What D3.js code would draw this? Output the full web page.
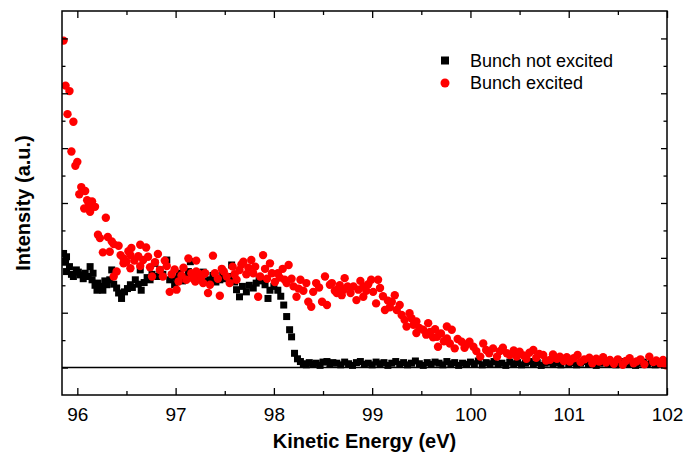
<html>
<head>
<script src="https://d3js.org/d3.v7.min.js"></script>
</head>
<style>
body { margin:0; background:#fff; }
text { font-family: Arial, "Liberation Sans", sans-serif; }
</style>
<body>
<script>

// Bunch excited (red circles)
var redE = [95.86,95.88,95.90,95.92,95.94,95.96,95.98,96.00,96.02,96.04,96.07,96.08,96.10,96.12,96.13,96.15,96.18,96.21,96.23,96.26,
  96.29,96.31,96.33,96.35,96.37,96.37,96.40,96.42,96.44,96.47,96.47,96.50,96.52,96.54,96.54,96.55,96.58,96.62,96.64,96.64,
  96.67,96.70,96.72,96.74,96.76,96.79,96.82,96.84,96.87,96.89,96.91,96.94,96.96,96.99,97.01,97.03,97.06,97.08,97.11,97.13,
  97.16,97.18,97.20,97.21,97.21,97.23,97.26,97.28,97.30,97.33,97.35,97.38,97.40,97.43,97.45,97.47,97.49,97.52,97.55,97.58,
  97.60,97.62,97.65,97.67,97.69,97.72,97.74,97.77,97.79,97.81,97.84,97.86,97.89,97.91,97.93,97.96,97.98,98.01,98.04,98.06,
  98.09,98.11,98.13,98.15,98.18,98.20,98.23,98.25,98.27,98.30,98.33,98.35,98.38,98.40,98.43,98.46,98.49,98.52,98.54,98.57,
  98.59,98.62,98.64,98.64,98.67,98.69,98.71,98.72,98.75,98.78,98.81,98.84,98.86,98.88,98.91,98.91,98.94,98.96,98.99,99.01,
  99.04,99.06,99.08,99.11,99.13,99.16,99.18,99.20,99.23,99.25,99.28,99.30,99.33,99.35,99.38,99.40,99.42,99.45,99.45,99.48,
  99.52,99.55,99.57,99.59,99.62,99.64,99.66,99.67,99.70,99.73,99.76,99.76,99.79,99.81,99.84,99.87,99.91,99.94,99.96,99.99,
  100.03,100.06,100.10,100.13,100.16,100.19,100.23,100.27,100.30,100.33,100.37,100.40,100.44,100.47,100.50,100.54,100.57,100.60,100.64,100.67,
  100.70,100.74,100.77,100.81,100.84,100.88,100.91,100.95,100.98,101.01,101.05,101.09,101.12,101.16,101.21,101.24,101.28,101.31,101.35,101.38,
  101.42,101.46,101.50,101.55,101.58,101.62,101.66,101.69,101.73,101.77,101.82,101.86,101.89,101.93,101.96,101.99];
var redI = [5.96,5.14,4.62,5.04,3.94,4.48,3.68,3.75,3.16,3.29,2.90,3.22,3.05,2.97,2.84,3.03,2.93,2.42,2.36,2.10,
  2.73,2.38,2.11,2.30,2.25,1.66,1.75,2.22,2.05,1.90,1.99,1.93,2.12,2.05,1.81,2.18,1.95,2.03,2.24,1.85,
  1.96,2.19,2.02,1.83,1.66,1.92,2.07,1.78,1.66,1.95,1.85,1.38,1.70,1.79,1.42,1.57,1.68,1.82,1.60,1.99,
  1.72,1.62,1.57,1.95,1.75,1.72,1.64,1.54,1.72,1.36,1.51,2.04,1.72,1.62,1.31,1.80,1.75,1.66,1.54,1.84,
  1.70,1.60,1.78,1.88,1.93,1.70,1.82,1.96,1.72,1.84,1.29,1.66,2.05,1.80,1.62,1.90,1.72,1.56,1.72,1.64,
  1.80,1.60,1.54,1.87,1.62,1.48,1.29,1.44,1.60,1.40,1.54,1.20,1.11,1.38,1.54,1.46,1.20,1.66,1.14,1.51,
  1.54,1.40,1.42,1.36,1.50,1.32,1.42,1.63,1.48,1.36,1.48,1.23,1.42,1.58,1.48,1.29,1.40,1.52,1.60,1.38,
  1.17,1.60,1.45,1.30,1.05,1.22,1.10,1.20,1.32,1.05,1.14,0.96,0.87,0.75,0.99,0.90,0.78,0.84,0.63,0.72,
  0.69,0.60,0.81,0.65,0.55,0.70,0.56,0.38,0.62,0.48,0.75,0.53,0.44,0.69,0.35,0.52,0.47,0.36,0.42,0.47,
  0.38,0.30,0.20,0.44,0.32,0.26,0.35,0.20,0.30,0.36,0.26,0.23,0.31,0.20,0.29,0.22,0.16,0.27,0.32,0.18,
  0.25,0.23,0.13,0.14,0.24,0.16,0.20,0.12,0.19,0.11,0.17,0.23,0.10,0.15,0.18,0.08,0.16,0.11,0.19,0.09,
  0.14,0.07,0.15,0.05,0.12,0.17,0.08,0.11,0.15,0.06,0.20,0.10,0.13,0.08,0.14,0.04];

// Bunch not excited (black squares)
var blackE = [95.86,95.88,95.89,95.89,95.92,95.94,95.96,95.99,96.01,96.03,96.06,96.08,96.11,96.13,96.15,96.16,96.18,96.20,96.21,96.24,
  96.26,96.28,96.30,96.33,96.35,96.37,96.40,96.42,96.45,96.48,96.51,96.54,96.56,96.59,96.62,96.64,96.65,96.68,96.71,96.74,
  96.76,96.79,96.81,96.84,96.87,96.91,96.94,96.96,96.99,97.01,97.04,97.07,97.10,97.13,97.15,97.18,97.21,97.25,97.28,97.31,
  97.35,97.38,97.41,97.45,97.48,97.51,97.55,97.57,97.60,97.62,97.65,97.68,97.72,97.75,97.79,97.82,97.85,97.88,97.91,97.94,
  97.96,98.00,98.04,98.07,98.10,98.13,98.16,98.18,98.21,98.24,98.27,98.30,98.33,98.36,98.40,98.43,98.47,98.50,98.54,98.57,
  98.60,98.64,98.68,98.72,98.76,98.80,98.84,98.88,98.92,98.96,99.00,99.04,99.08,99.12,99.16,99.20,99.24,99.28,99.32,99.36,
  99.40,99.44,99.48,99.52,99.56,99.60,99.64,99.68,99.72,99.76,99.80,99.84,99.88,99.92,99.96,100.00,100.04,100.08,100.12,100.16,
  100.20,100.24,100.28,100.32,100.36,100.40,100.44,100.48,100.52,100.56,100.60,100.64,100.68,100.72,100.76,100.80,100.84,100.88,100.92,100.96,
  101.00,101.04,101.08,101.12,101.16,101.20,101.24,101.28,101.32,101.36,101.40,101.44,101.48,101.52,101.56,101.60,101.64,101.68,101.72,101.76,
  101.80,101.84,101.88,101.92,101.96,102.00];
var blackI = [2.08,1.92,2.02,1.75,1.84,1.70,1.66,1.78,1.74,1.69,1.62,1.72,1.66,1.84,1.60,1.72,1.50,1.41,1.54,1.48,
  1.41,1.58,1.51,1.60,1.78,1.52,1.45,1.36,1.26,1.38,1.44,1.51,1.46,1.60,1.52,1.78,1.41,1.55,1.64,1.60,
  1.70,1.90,1.66,1.78,1.70,1.96,1.60,1.66,1.51,1.62,1.72,1.58,1.66,1.75,1.93,1.69,1.60,1.66,1.74,1.58,
  1.60,1.68,1.56,1.60,1.70,1.62,1.66,1.87,1.56,1.42,1.29,1.48,1.38,1.50,1.45,1.54,1.62,1.58,1.51,1.26,
  1.41,1.48,1.41,1.30,1.14,0.93,0.69,0.56,0.26,0.16,0.11,0.07,0.05,0.09,0.06,0.08,0.04,0.10,0.11,0.06,
  0.09,0.08,0.05,0.10,0.07,0.04,0.09,0.11,0.06,0.08,0.05,0.10,0.07,0.09,0.04,0.08,0.11,0.06,0.09,0.05,
  0.08,0.12,0.07,0.04,0.09,0.06,0.10,0.08,0.05,0.11,0.07,0.09,0.04,0.08,0.06,0.10,0.07,0.12,0.05,0.09,
  0.07,0.11,0.06,0.08,0.04,0.10,0.07,0.09,0.05,0.08,0.11,0.06,0.09,0.04,0.08,0.10,0.06,0.09,0.05,0.12,
  0.07,0.09,0.05,0.08,0.11,0.06,0.09,0.04,0.08,0.10,0.06,0.09,0.05,0.08,0.11,0.06,0.09,0.04,0.08,0.10,
  0.06,0.09,0.05,0.08,0.11,0.06];

var xTicks = [96, 97, 98, 99, 100, 101, 102];
var legendLabels = ["Bunch not excited", "Bunch excited"];

var width = 684, height = 461;
var margin = {top: 11, right: 17, bottom: 66, left: 62};
var w = width - margin.left - margin.right;
var h = height - margin.top - margin.bottom;

var x = d3.scaleLinear().domain([95.844, 102]).range([0, w]);
var y = d3.scaleLinear().domain([-0.5, 6.5]).range([h, 0]);

var svg = d3.select("body").append("svg")
    .attr("width", width)
    .attr("height", height)
  .append("g")
    .attr("transform", "translate(" + margin.left + "," + margin.top + ")");

svg.append("clipPath").attr("id", "clip")
  .append("rect").attr("width", w).attr("height", h);

// zero line
svg.append("line")
    .attr("x1", 0).attr("x2", w)
    .attr("y1", y(0)).attr("y2", y(0))
    .attr("stroke", "#000").attr("stroke-width", 1.5);

var plot = svg.append("g").attr("clip-path", "url(#clip)");

var blackData = blackE.map(function(e, i) { return [e, blackI[i]]; });
var redData = redE.map(function(e, i) { return [e, redI[i]]; });

var sq = 7;
plot.selectAll(".sq").data(blackData).enter().append("rect")
    .attr("class", "sq")
    .attr("x", function(d) { return x(d[0]) - sq / 2; })
    .attr("y", function(d) { return y(d[1]) - sq / 2; })
    .attr("width", sq).attr("height", sq)
    .attr("fill", "#000");

plot.selectAll(".dot").data(redData).enter().append("circle")
    .attr("class", "dot")
    .attr("cx", function(d) { return x(d[0]); })
    .attr("cy", function(d) { return y(d[1]); })
    .attr("r", 4.2)
    .attr("fill", "#ff0000");

// axes, ticks point inward
var minorX = [96.5, 97.5, 98.5, 99.5, 100.5, 101.5];
var yMajor = [0, 1, 2, 3, 4, 5, 6];
var yMinor = [0.5, 1.5, 2.5, 3.5, 4.5, 5.5];

var gBottom = svg.append("g").attr("transform", "translate(0," + h + ")")
    .call(d3.axisBottom(x).tickValues(xTicks).tickSizeInner(-7).tickSizeOuter(0).tickPadding(13)
      .tickFormat(d3.format("d")));
gBottom.append("g").call(d3.axisBottom(x).tickValues(minorX).tickSizeInner(-4).tickSizeOuter(0).tickFormat(""));

var gTop = svg.append("g")
    .call(d3.axisTop(x).tickValues(xTicks).tickSizeInner(-7).tickSizeOuter(0).tickFormat(""));
gTop.append("g").call(d3.axisTop(x).tickValues(minorX).tickSizeInner(-4).tickSizeOuter(0).tickFormat(""));

var gLeft = svg.append("g")
    .call(d3.axisLeft(y).tickValues(yMajor).tickSizeInner(-6).tickSizeOuter(0).tickFormat(""));
gLeft.append("g").call(d3.axisLeft(y).tickValues(yMinor).tickSizeInner(-3.5).tickSizeOuter(0).tickFormat(""));

var gRight = svg.append("g").attr("transform", "translate(" + w + ",0)")
    .call(d3.axisRight(y).tickValues(yMajor).tickSizeInner(-6).tickSizeOuter(0).tickFormat(""));
gRight.append("g").call(d3.axisRight(y).tickValues(yMinor).tickSizeInner(-3.5).tickSizeOuter(0).tickFormat(""));

svg.selectAll(".domain").remove();
svg.selectAll(".tick line").attr("stroke", "#000").attr("stroke-width", 1.3);
gBottom.selectAll(".tick text")
    .attr("font-size", 19)
    .attr("font-family", "Arial, 'Liberation Sans', sans-serif")
    .attr("fill", "#000");

// frame
svg.append("rect")
    .attr("width", w).attr("height", h)
    .attr("fill", "none").attr("stroke", "#000").attr("stroke-width", 1.5);

// axis titles
svg.append("text")
    .attr("x", w / 2).attr("y", h + 53)
    .attr("text-anchor", "middle")
    .attr("font-size", 20).attr("font-weight", "bold")
    .text("Kinetic Energy (eV)");

svg.append("text")
    .attr("transform", "translate(" + (-32) + "," + (h / 2) + ") rotate(-90)")
    .attr("text-anchor", "middle")
    .attr("font-size", 20).attr("font-weight", "bold")
    .text("Intensity (a.u.)");

// legend
var legend = svg.append("g").attr("transform", "translate(" + (445 - margin.left) + "," + (60.5 - margin.top) + ")");
legend.append("rect").attr("x", -4).attr("y", -4).attr("width", 8).attr("height", 8).attr("fill", "#000");
legend.append("circle").attr("cx", 0).attr("cy", 22.5).attr("r", 4.5).attr("fill", "#ff0000");
legend.selectAll("text.lg").data(legendLabels).enter().append("text")
    .attr("class", "lg")
    .attr("x", 25)
    .attr("y", function(d, i) { return 6.5 + i * 21.6; })
    .attr("font-size", 18)
    .text(function(d) { return d; });

</script>
</body>
</html>
